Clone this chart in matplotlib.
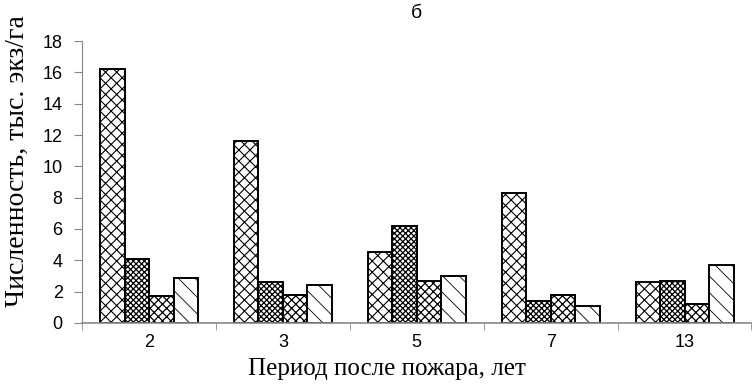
import numpy as np
import matplotlib
matplotlib.use('Agg')
from matplotlib import pyplot as plt

periods = ['2', '3', '5', '7', '13']
s1 = [16.2, 11.6, 4.5, 8.3, 2.6]
s2 = [4.1, 2.6, 6.2, 1.4, 2.7]
s3 = [1.7, 1.8, 2.7, 1.8, 1.2]
s4 = [2.9, 2.4, 3.0, 1.1, 3.7]
yticks = [0, 2, 4, 6, 8, 10, 12, 14, 16, 18]

fig = plt.figure(figsize=(7.53, 3.84), dpi=100)
ax = fig.add_axes([0.109, 0.159, 0.889, 0.734])

x = np.arange(len(periods))
w = 0.183
hatches = ['///\\\\\\', 'xxxxxx', 'xxxx', '\\\\']
hlw = [0.8, 0.9, 0.9, 0.6]
for k, vals in enumerate([s1, s2, s3, s4]):
    with plt.rc_context({'hatch.linewidth': hlw[k]}):
        ax.bar(x + (k - 1.5) * w, vals, w, color='white', edgecolor='black',
               hatch=hatches[k], linewidth=1.4)

ax.set_xlim(-0.5, len(periods) - 0.5)
ax.set_ylim(0, 18)
ax.set_yticks(yticks)
ax.set_xticks(x)
ax.set_xticklabels(periods)
ax.set_xticks(np.arange(len(periods) + 1) - 0.5, minor=True)
ax.tick_params(axis='x', which='major', length=0, pad=8)
ax.tick_params(axis='x', which='minor', length=5, color='#888888')
ax.tick_params(axis='y', length=6, color='#888888', pad=8)
for lab in ax.get_xticklabels() + ax.get_yticklabels():
    lab.set_fontfamily('Liberation Sans')
    lab.set_fontsize(13)

for s in ['top', 'right']:
    ax.spines[s].set_visible(False)
ax.spines['left'].set_color('#888888')
ax.spines['bottom'].set_color('#888888')
ax.spines['bottom'].set_linewidth(1.2)

ax.set_ylabel('Численность, тыс. экз/га', fontfamily='Liberation Serif', fontsize=20)
ax.yaxis.set_label_coords(-0.097, 0.575)
ax.yaxis.label.set_va('center')
ax.set_xlabel('Период после пожара, лет', fontfamily='Liberation Serif', fontsize=18)
ax.xaxis.set_label_coords(0.456, -0.163)
ax.xaxis.label.set_va('center')
fig.text(0.553, 0.965, 'б', ha='center', va='center', fontfamily='Liberation Sans', fontsize=14)

fig.savefig('out.png', dpi=100)
